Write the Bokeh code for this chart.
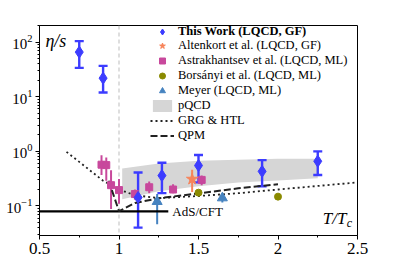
from bokeh.plotting import figure
from bokeh.models import (ColumnDataSource, Whisker, TeeHead, Span, Label, Legend,
                          LegendItem, FixedTicker)
from bokeh.embed import file_html
from bokeh.resources import INLINE

# ---------------- data ----------------
tw_T = [0.75, 0.90, 1.12, 1.27, 1.50, 1.90, 2.25]
tw_val = [66, 22, 0.143, 0.36, 0.55, 0.43, 0.66]
tw_lo = [34, 12, 0.040, 0.172, 0.27, 0.23, 0.37]
tw_hi = [105, 37, 0.41, 0.62, 0.86, 0.69, 1.00]

alt_T = [1.46]
alt_val = [0.31]
alt_lo = [0.18]
alt_hi = [0.46]

ast_T = [0.89, 0.92, 0.95, 1.00, 1.10, 1.19, 1.34, 1.52]
ast_val = [0.57, 0.56, 0.24, 0.195, 0.165, 0.22, 0.20, 0.30]
ast_lo = [0.37, 0.29, 0.088, 0.11, 0.13, 0.17, 0.17, 0.24]
ast_hi = [0.85, 0.77, 0.45, 0.31, 0.20, 0.28, 0.25, 0.36]

bor_T = [1.50, 2.00]
bor_val = [0.175, 0.148]

mey_T = [1.24, 1.65]
mey_val = [0.12, 0.14]
mey_lo = [0.046, 0.115]
mey_hi = [0.165, 0.16]

pqcd_T = [1.02, 1.25, 1.50, 1.75, 2.00, 2.25]
pqcd_lo = [0.133, 0.186, 0.229, 0.270, 0.294, 0.320]
pqcd_hi = [0.484, 0.597, 0.676, 0.705, 0.735, 0.735]

grg_T = [0.67, 0.90, 1.00, 1.10, 1.25, 1.50, 1.75, 2.00, 2.50]
grg_val = [0.98, 0.29, 0.20, 0.157, 0.139, 0.152, 0.171, 0.20, 0.27]

qpm_T = [0.935, 1.00, 1.10, 1.25, 1.50, 1.75, 2.00]
qpm_val = [0.29, 0.08, 0.113, 0.138, 0.17, 0.21, 0.25]

ads_T = [0.5, 1.31]
ads_val = [0.0796, 0.0796]

x_ticks = [0.5, 1.0, 1.5, 2.0, 2.5]
x_minor = [0.75, 1.25, 1.75, 2.25]

# ---------------- styles ----------------
BLUE = "#3c3cff"
ORANGE = "#f7845a"
MAGENTA = "#c8489c"
OLIVE = "#8a8a00"
STEEL = "#4683c0"
FONT = "Liberation Serif"

p = figure(width=381, height=256, x_range=(0.5, 2.5), y_range=(0.0287, 203),
           y_axis_type="log", output_backend="svg", toolbar_location=None,
           min_border_left=39, min_border_right=24, min_border_top=25,
           min_border_bottom=18)
p.grid.visible = False
p.outline_line_color = "black"
p.outline_line_width = 1
p.background_fill_color = "white"
p.border_fill_color = "white"

p.xaxis.ticker = FixedTicker(ticks=x_ticks, minor_ticks=x_minor)
for ax in (p.xaxis, p.yaxis):
    ax.major_label_text_font = FONT
    ax.major_label_text_color = "black"
    ax.axis_line_color = "black"
    ax.major_tick_line_color = "black"
    ax.minor_tick_line_color = "black"
    ax.major_tick_out = 4
    ax.major_tick_in = 0
    ax.minor_tick_out = 2
    ax.minor_tick_in = 0
p.xaxis.major_label_text_font_size = "17px"
p.yaxis.major_label_text_font_size = "15px"
p.xaxis.major_label_standoff = 3
p.yaxis.major_label_standoff = 3

# Tc line
p.add_layout(Span(location=1.0, dimension="height", line_color="#c8c8c8",
                  line_dash="4 3", line_width=1.2, level="underlay"))

# pQCD band
band = p.varea(x=pqcd_T, y1=pqcd_lo, y2=pqcd_hi, fill_color="#d6d6d6",
               fill_alpha=1.0, level="underlay")

# theory curves
ads = p.line(ads_T, ads_val, line_color="black", line_width=2.2)
grg = p.line(grg_T, grg_val, line_color="#222222", line_width=1.8,
             line_dash="2 3")
qpm = p.line(qpm_T, qpm_val, line_color="#222222", line_width=2.0,
             line_dash="7 3")

def errbars(T, lo, hi, color, width, cap):
    src = ColumnDataSource(dict(T=T, lo=lo, hi=hi))
    w = Whisker(source=src, base="T", lower="lo", upper="hi",
                line_color=color, line_width=width,
                upper_head=TeeHead(size=cap, line_color=color, line_width=width),
                lower_head=TeeHead(size=cap, line_color=color, line_width=width))
    if cap == 0:
        w.upper_head = None
        w.lower_head = None
    p.add_layout(w)

errbars(ast_T, ast_lo, ast_hi, MAGENTA, 2.0, 0)
errbars(alt_T, alt_lo, alt_hi, ORANGE, 2.0, 0)
errbars(mey_T, mey_lo, mey_hi, STEEL, 2.0, 0)
errbars(tw_T, tw_lo, tw_hi, BLUE, 2.4, 9)

ast = p.scatter(ast_T, ast_val, marker="square", size=7, fill_color=MAGENTA,
                line_color=MAGENTA)
alt = p.scatter(alt_T, alt_val, marker="star", size=12, fill_color=ORANGE,
                line_color=ORANGE)
bor = p.scatter(bor_T, bor_val, marker="circle", size=7, fill_color=OLIVE,
                line_color=OLIVE)
mey = p.scatter(mey_T, mey_val, marker="triangle", size=10, fill_color=STEEL,
                line_color=STEEL)
tw = p.scatter(tw_T, tw_val, marker="diamond", size=12, fill_color=BLUE,
               line_color=BLUE)

# text labels
p.add_layout(Label(x=1.335, y=0.0796, text="AdS/CFT", text_font=FONT,
                   text_font_size="13px", text_baseline="middle",
                   text_color="black"))
p.add_layout(Label(x=0.537, y=104, text="η/s", text_font=FONT,
                   text_font_style="italic", text_font_size="18px",
                   text_baseline="middle", text_color="black"))
p.add_layout(Label(x=2.43, y=0.058, text="T/T", text_font=FONT,
                   text_font_style="italic", text_font_size="17px",
                   text_baseline="middle", text_align="right",
                   text_color="black"))
p.add_layout(Label(x=2.433, y=0.049, text="c", text_font=FONT,
                   text_font_style="italic", text_font_size="12px",
                   text_baseline="middle", text_align="left",
                   text_color="black"))

# legends
common = dict(border_line_alpha=0, background_fill_alpha=0, padding=0,
              margin=0, spacing=0, glyph_width=24, glyph_height=15,
              label_height=15, label_standoff=4, label_text_font=FONT,
              label_text_font_size="12.5px", label_text_color="black")
leg1 = Legend(items=[LegendItem(label="This Work (LQCD, GF)", renderers=[tw])],
              location=(111, 196), label_text_font_style="bold", **common)
leg2 = Legend(items=[
    LegendItem(label="Altenkort et al. (LQCD, GF)", renderers=[alt]),
    LegendItem(label="Astrakhantsev et al. (LQCD, ML)", renderers=[ast]),
    LegendItem(label="Borsányi et al. (LQCD, ML)", renderers=[bor]),
    LegendItem(label="Meyer (LQCD, ML)", renderers=[mey]),
    LegendItem(label="pQCD", renderers=[band]),
    LegendItem(label="GRG & HTL", renderers=[grg]),
    LegendItem(label="QPM", renderers=[qpm]),
], location=(111, 92), **common)
p.add_layout(leg1)
p.add_layout(leg2)

open("out.html", "w").write(file_html(p, INLINE))
